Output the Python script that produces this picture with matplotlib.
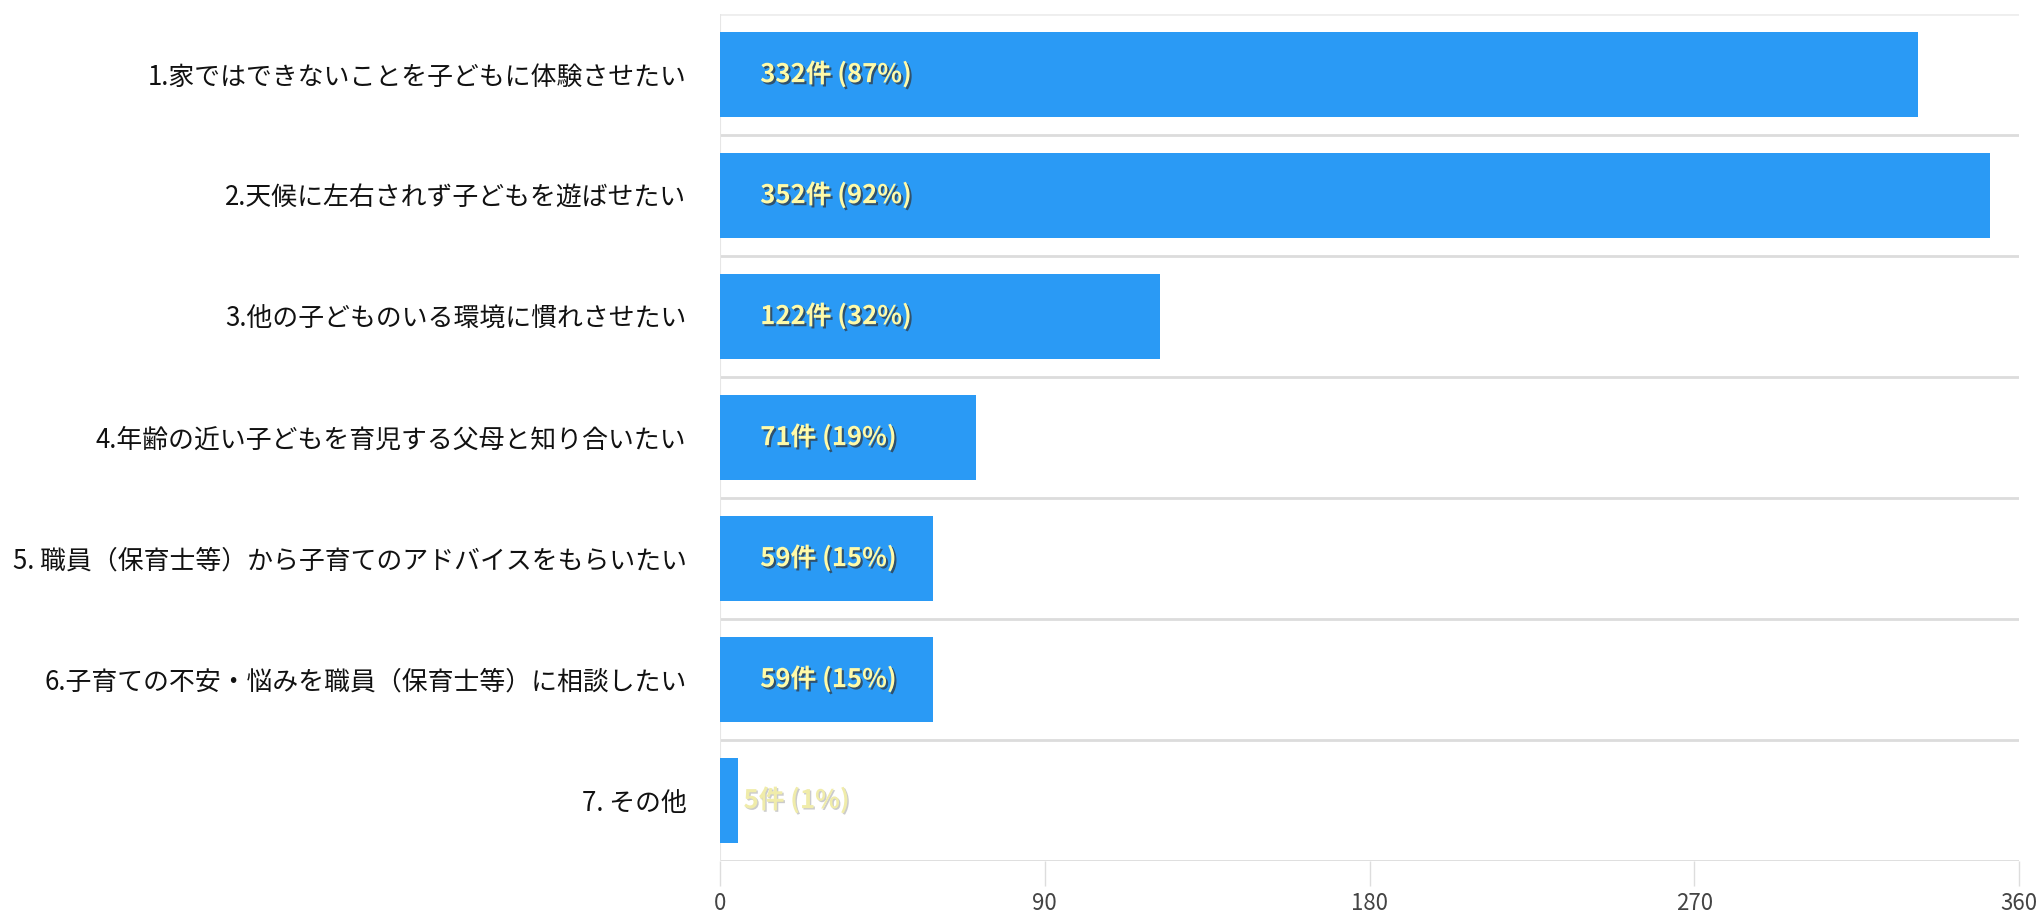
import matplotlib
matplotlib.use("Agg")
import matplotlib.pyplot as plt
import matplotlib.patheffects as pe

plt.rcParams['font.family'] = ['Noto Sans CJK JP', 'DejaVu Sans']

# survey answers (count, share)
categories = [
    "1.家ではできないことを子どもに体験させたい",
    "2.天候に左右されず子どもを遊ばせたい",
    "3.他の子どものいる環境に慣れさせたい",
    "4.年齢の近い子どもを育児する父母と知り合いたい",
    "5. 職員（保育士等）から子育てのアドバイスをもらいたい",
    "6.子育ての不安・悩みを職員（保育士等）に相談したい",
    "7. その他",
]
counts = [332, 352, 122, 71, 59, 59, 5]
percents = [87, 92, 32, 19, 15, 15, 1]
xticks = [0, 90, 180, 270, 360]

bar_color = "#2a9af5"
grid_color = "#dcdcdc"

fig = plt.figure(figsize=(20.43, 9.15), dpi=100)
ax = fig.add_axes([0.3524, 0.0590, 0.6359, 0.9257])

ypos = list(range(len(categories)))
ax.barh(ypos, counts, height=0.70, color=bar_color, zorder=3)

# row separators
for k in range(len(categories) + 1):
    ax.axhline(k - 0.5, color=grid_color if k > 0 else "#eeeeee", lw=2, zorder=1)
ax.axvline(0, color="#e6e6e6", lw=1.5, zorder=2)

ax.set_xlim(0, 360)
ax.set_ylim(len(categories) - 0.5, -0.5)
for s in ax.spines.values():
    s.set_visible(False)

ax.set_xticks(xticks)
ax.set_xticklabels([str(t) for t in xticks], fontsize=16, color="#444444")
ax.tick_params(axis="x", length=18, width=1, color="#dddddd", pad=4)

ax.set_yticks(ypos)
ax.set_yticklabels(categories, fontsize=18.6, color="#111111")
ax.tick_params(axis="y", length=0, pad=24)

# value labels
shadow = [pe.withSimplePatchShadow(offset=(1.5, -1.5), shadow_rgbFace="#333333", alpha=0.7)]
for y, c, p in zip(ypos, counts, percents):
    label = f"{c}件 ({p}%)"
    if c > 30:
        ax.annotate(label, (0, y), xytext=(29, 0), textcoords="offset points",
                    va="center", ha="left", fontsize=18.5, fontweight="bold",
                    color="#fffaa8", path_effects=shadow, zorder=4)
    else:
        ax.annotate(label, (c, y), xytext=(4, 0), textcoords="offset points",
                    va="center", ha="left", fontsize=18.5, fontweight="bold",
                    color="#f0ecaa",
                    path_effects=[pe.withSimplePatchShadow(offset=(1, -1), shadow_rgbFace="#999999", alpha=0.5)],
                    zorder=4)

fig.savefig("out.png", dpi=100)
